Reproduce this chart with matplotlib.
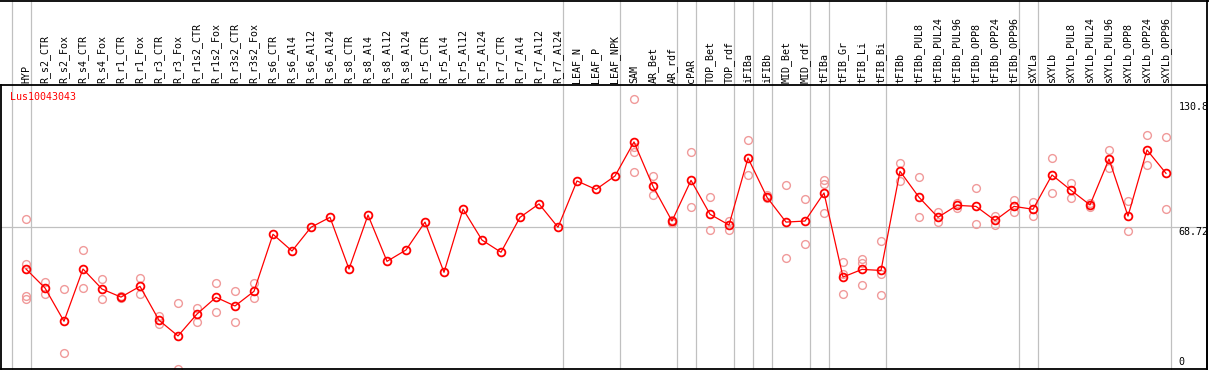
import matplotlib
matplotlib.use('Agg')
import matplotlib.pyplot as plt
from matplotlib.transforms import blended_transform_factory

################################## DATA ##################################

gene = 'Lus10043043'

samples = ['HYP', 'R_s2_CTR', 'R_s2_Fox', 'R_s4_CTR', 'R_s4_Fox', 'R_r1_CTR',
           'R_r1_Fox', 'R_r3_CTR', 'R_r3_Fox', 'R_r1s2_CTR', 'R_r1s2_Fox',
           'R_r3s2_CTR', 'R_r3s2_Fox', 'R_s6_CTR', 'R_s6_Al4', 'R_s6_Al12',
           'R_s6_Al24', 'R_s8_CTR', 'R_s8_Al4', 'R_s8_Al12', 'R_s8_Al24',
           'R_r5_CTR', 'R_r5_Al4', 'R_r5_Al12', 'R_r5_Al24', 'R_r7_CTR',
           'R_r7_Al4', 'R_r7_Al12', 'R_r7_Al24', 'LEAF_N', 'LEAF_P', 'LEAF_NPK',
           'SAM', 'AR_Bet', 'AR_rdf', 'cPAR', 'TOP_Bet', 'TOP_rdf', 'iFIBa',
           'iFIBb', 'MID_Bet', 'MID_rdf', 'tFIBa', 'tFIB_Gr', 'tFIB_Li',
           'tFIB_Bi', 'tFIBb', 'tFIBb_PUL8', 'tFIBb_PUL24', 'tFIBb_PUL96',
           'tFIBb_OPP8', 'tFIBb_OPP24', 'tFIBb_OPP96', 'sXYLa', 'sXYLb',
           'sXYLb_PUL8', 'sXYLb_PUL24', 'sXYLb_PUL96', 'sXYLb_OPP8',
           'sXYLb_OPP24', 'sXYLb_OPP96']

# mean expression per sample
means = [48.4, 39.2, 23.1, 48.4, 38.7, 34.8, 40.0, 23.6, 16.0, 26.6, 34.7, 30.5,
         37.6, 65.2, 57.1, 68.6, 73.4, 48.4, 74.5, 52.1, 57.6, 71.1, 46.8, 77.4,
         62.4, 56.5, 73.4, 79.9, 68.6, 91.0, 86.9, 93.4, 109.9, 88.4, 71.6, 91.3,
         74.9, 69.7, 102.1, 83.1, 71.1, 71.6, 85.2, 44.5, 48.2, 47.7, 95.7, 83.1,
         73.4, 79.2, 78.7, 71.9, 78.7, 77.3, 93.9, 86.5, 79.4, 101.6, 74.0, 106.0,
         94.7]

# individual replicates (empty where none are drawn)
reps = [[72.4, 50.8, 35.5, 33.9], [42.1, 36.1], [38.6, 7.7], [57.6, 39.2],
        [43.4, 33.7], [35.5, 34.2], [44.0, 36.1], [25.5, 21.9], [31.8, 0.1],
        [29.5, 22.9], [41.5, 27.4], [37.7, 22.6], [41.5, 34.2],
        [], [], [], [], [], [], [], [], [], [], [], [], [], [], [], [],
        [], [], [],
        [130.8, 107.6, 104.9, 95.2], [93.4, 84.0], [72.3, 70.8], [104.9, 78.2],
        [83.1, 67.1], [71.8, 67.1], [110.7, 93.7], [84.2, 82.6], [88.9, 53.7],
        [82.1, 60.3], [91.3, 89.4, 75.3], [51.8, 46.1, 36.1],
        [53.4, 51.1, 40.7], [61.8, 46.0, 35.8], [99.5, 91.1], [92.8, 73.4],
        [76.1, 71.0], [80.3, 77.8], [87.4, 70.0], [74.0, 69.5], [81.9, 76.0],
        [80.8, 73.9], [102.1, 85.0], [90.0, 82.6], [80.2, 78.2], [105.8, 97.1],
        [81.3, 66.6], [113.1, 98.6], [112.1, 77.3]]

# index of the last sample in each group (-1 = line before the first)
group_ends = [-1, 0, 28, 31, 34, 35, 37, 38, 39, 41, 42, 45, 52, 53, 60]

y_labels = ['130.8', '68.72', '0']
y_max = 137.44
y_mid = 68.72

################################## PLOT ##################################

W, H = 1209, 370
fig = plt.figure(figsize=(W / 100, H / 100), dpi=100)
# plot box in pixels: x 1..1207, y 85..369 (from top)
ax = fig.add_axes([1 / W, 1 / H, 1206 / W, 284 / H])

x = list(range(len(samples)))
step = 19.0
ax.set_xlim(-25 / step, -25 / step + 1206 / step)
ax.set_ylim(0, y_max)

grey = '#c0c0c0'
for e in group_ends:
    ax.axvline(e + 0.24, ymin=0, ymax=369 / 284, color=grey, lw=0.9,
               clip_on=False, zorder=1)
ax.axhline(y_mid, color=grey, lw=0.9, zorder=1)

# replicates
for i, r in enumerate(reps):
    ax.plot([i] * len(r), r, 'o', ms=5.6, mfc='none', mec='#f09a9a',
            mew=1.0, zorder=2, clip_on=False)

# means
ax.plot(x, means, '-', color='red', lw=0.9, zorder=3)
ax.plot(x, means, 'o', ms=5.6, mfc='none', mec='red', mew=1.3, zorder=4)

ax.set_xticks([])
ax.set_yticks([])
for s in ax.spines.values():
    s.set_color('black')
    s.set_linewidth(1.3)

font = 'DejaVu Sans Mono'
trans = blended_transform_factory(ax.transData, ax.transAxes)
for i, name in enumerate(samples):
    ax.text(i, 1.007, name, rotation=90, ha='center', va='bottom',
            family=font, fontsize=7.2, transform=trans)

ax.text(0.0075, 0.958, gene, color='red', ha='left', va='center',
        family=font, fontsize=7.2, transform=ax.transAxes)

for lab, yy in zip(y_labels, [0.9225, 0.4835, 0.0257]):
    ax.text(0.9765, yy, lab, ha='left', va='center', family=font,
            fontsize=7.2, transform=ax.transAxes)

# outer frame: top edge and right edge of the image
fig.add_artist(plt.Line2D([0, 1], [1 - 0.5 / H, 1 - 0.5 / H], color='black',
                          lw=1.3, transform=fig.transFigure))
fig.add_artist(plt.Line2D([1207 / W, 1207 / W], [0, 1], color='black',
                          lw=1.3, transform=fig.transFigure))

fig.savefig('out.png', dpi=100)
